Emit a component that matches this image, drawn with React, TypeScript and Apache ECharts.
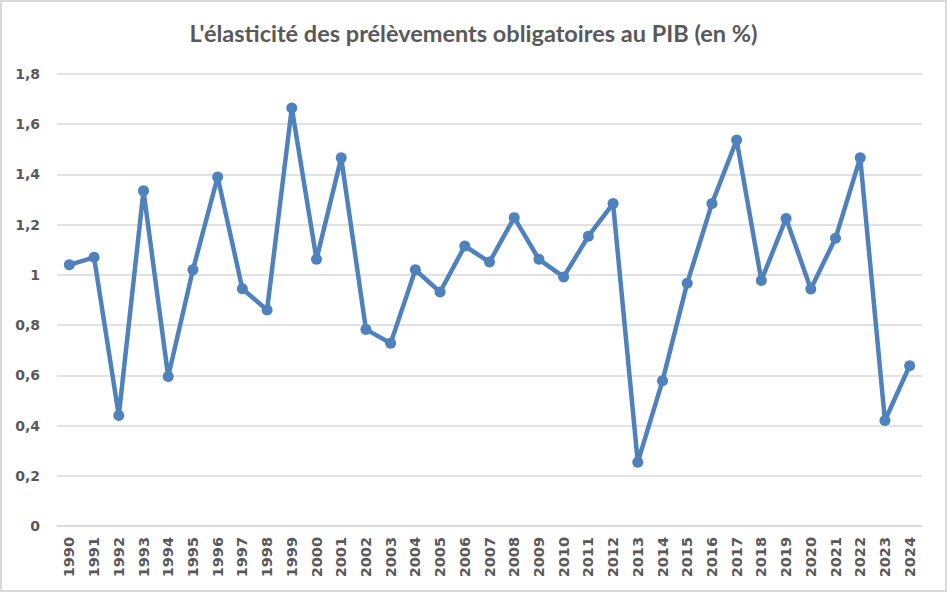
import React, { useEffect, useRef } from "react";
import * as echarts from "echarts";

const years = [
  "1990","1991","1992","1993","1994","1995","1996","1997","1998","1999",
  "2000","2001","2002","2003","2004","2005","2006","2007","2008","2009",
  "2010","2011","2012","2013","2014","2015","2016","2017","2018","2019",
  "2020","2021","2022","2023","2024",
];
const elasticity = [
  1.04, 1.07, 0.44, 1.335, 0.595, 1.02, 1.39, 0.945, 0.86, 1.665,
  1.062, 1.466, 0.783, 0.728, 1.02, 0.932, 1.115, 1.051, 1.228, 1.062,
  0.992, 1.154, 1.284, 0.254, 0.578, 0.967, 1.284, 1.537, 0.978, 1.225,
  0.944, 1.146, 1.466, 0.42, 0.638,
];
const title = "L'élasticité des prélèvements obligatoires au PIB (en %)";

export default function App() {
  const ref = useRef<HTMLDivElement>(null);
  useEffect(() => {
    if (!ref.current) return;
    const chart = echarts.init(ref.current, null, { renderer: "svg" });
    chart.setOption({
      animation: false,
      backgroundColor: "#ffffff",
      title: {
        text: title,
        left: "center",
        top: 14,
        textStyle: {
          fontFamily: "Lato",
          fontSize: 23.5,
          fontWeight: "bold",
          color: "#595959",
        },
      },
      grid: { left: 55, right: 23, top: 72, bottom: 64, containLabel: false },
      xAxis: {
        type: "category",
        data: years,
        boundaryGap: true,
        axisLine: { show: true, lineStyle: { color: "#d9d9d9", width: 1.5 } },
        axisTick: { show: false },
        axisLabel: {
          rotate: 90,
          interval: 0,
          color: "#595959",
          fontFamily: "DejaVu Sans",
          fontSize: 14.5,
          fontWeight: "bold",
          margin: 11,
        },
      },
      yAxis: {
        type: "value",
        min: 0,
        max: 1.8,
        interval: 0.2,
        axisLine: { show: false },
        axisTick: { show: false },
        splitLine: { lineStyle: { color: "#d9d9d9", width: 1.5 } },
        axisLabel: {
          color: "#595959",
          fontFamily: "DejaVu Sans",
          fontSize: 14,
          fontWeight: "bold",
          margin: 17,
          formatter: (v: number) => {
            const r = Math.round(v * 10) / 10;
            return String(r).replace(".", ",");
          },
        },
      },
      series: [
        {
          type: "line",
          data: elasticity,
          symbol: "circle",
          symbolSize: 11,
          lineStyle: { color: "#4f81bd", width: 4.5 },
          itemStyle: { color: "#4f81bd" },
        },
      ],
    });
    return () => chart.dispose();
  }, []);
  return (
    <div
      style={{
        position: "fixed",
        left: 0,
        top: 0,
        width: 947,
        height: 592,
        boxSizing: "border-box",
        border: "2px solid #d9d9d9",
        background: "#fff",
      }}
    >
      <div ref={ref} style={{ width: 943, height: 588 }} />
    </div>
  );
}
